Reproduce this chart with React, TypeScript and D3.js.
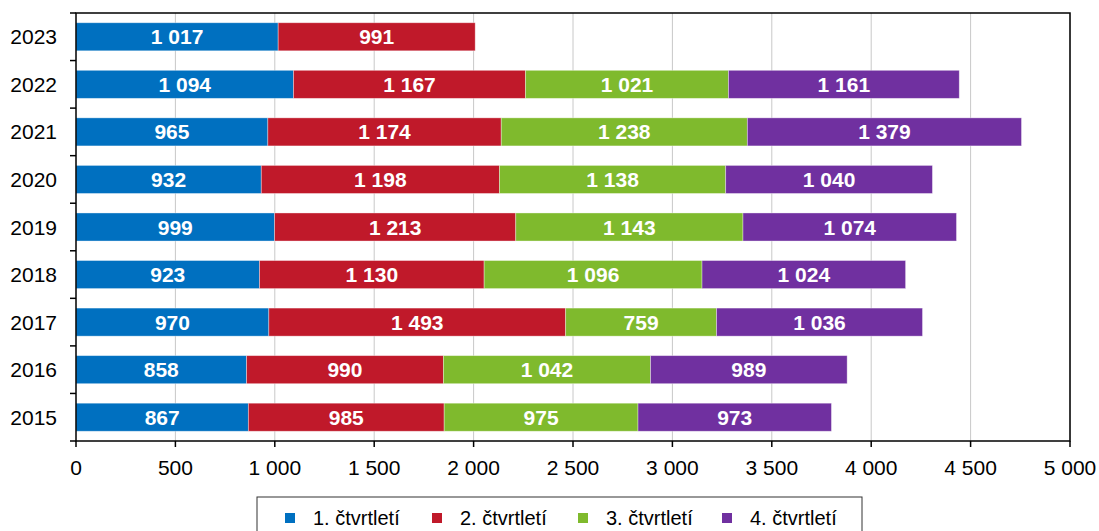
import * as d3 from 'd3'

const years = ['2023', '2022', '2021', '2020', '2019', '2018', '2017', '2016', '2015']
const q1 = [1017, 1094, 965, 932, 999, 923, 970, 858, 867]
const q2 = [991, 1167, 1174, 1198, 1213, 1130, 1493, 990, 985]
const q3 = [0, 1021, 1238, 1138, 1143, 1096, 759, 1042, 975]
const q4 = [0, 1161, 1379, 1040, 1074, 1024, 1036, 989, 973]
const seriesNames = ['1. čtvrtletí', '2. čtvrtletí', '3. čtvrtletí', '4. čtvrtletí']
const seriesColors = ['#0070c0', '#c0192a', '#7fba2d', '#7030a0']
const xTicks = [0, 500, 1000, 1500, 2000, 2500, 3000, 3500, 4000, 4500, 5000]

const W = 1099
const H = 531
const margin = { top: 13, right: 29, bottom: 90, left: 76 }
const plotW = W - margin.left - margin.right
const plotH = H - margin.top - margin.bottom

const fmt = (v: number) => d3.format(',')(v).replace(/,/g, ' ')
const font = '"Liberation Sans", Arial, sans-serif'

export default function App() {
  const rows = years.map((y, i) => ({ year: y, q1: q1[i], q2: q2[i], q3: q3[i], q4: q4[i] }))
  const stack = d3.stack<any>().keys(['q1', 'q2', 'q3', 'q4'])(rows)

  const x = d3.scaleLinear().domain([0, 5000]).range([0, plotW])
  const y = d3.scaleBand().domain(years).range([0, plotH]).paddingInner(0.41).paddingOuter(0.205)

  const legendX = 257
  const legendY = 497
  const legendItemX = [28, 175, 321, 465]

  return (
    <svg width={W} height={H} style={{ position: 'absolute', left: 0, top: 0, fontFamily: font }}>
      <rect width={W} height={H} fill="#fff" />
      <g transform={`translate(${margin.left},${margin.top})`}>
        {xTicks.slice(1).map((t) => (
          <line key={t} x1={x(t)} x2={x(t)} y1={0} y2={plotH} stroke="#c8c8c8" strokeWidth={1} />
        ))}
        {stack.map((s, si) =>
          s.map((d, i) => {
            const v = d[1] - d[0]
            if (v <= 0) return null
            const x0 = x(d[0])
            const w = x(d[1]) - x0
            const yy = y(years[i])!
            return (
              <g key={`${si}-${i}`}>
                <rect x={x0} y={yy} width={w} height={y.bandwidth()} fill={seriesColors[si]} stroke="#ffffff" strokeOpacity={0.45} strokeWidth={0.8} />
                <text x={x0 + w / 2} y={yy + y.bandwidth() / 2} dy="0.36em" textAnchor="middle" fill="#fff" fontWeight="bold" fontSize={21}>
                  {fmt(v)}
                </text>
              </g>
            )
          })
        )}
        <rect x={0} y={0} width={plotW} height={plotH} fill="none" stroke="#000" strokeWidth={1.5} />
        {years.map((yr, i) => (
          <g key={yr}>
            <line x1={-6} x2={0} y1={(plotH / years.length) * i} y2={(plotH / years.length) * i} stroke="#000" strokeWidth={1.5} />
            <text x={-19} y={y(yr)! + y.bandwidth() / 2} dy="0.36em" textAnchor="end" fontSize={21} fill="#000">
              {yr}
            </text>
          </g>
        ))}
        <line x1={-6} x2={0} y1={plotH} y2={plotH} stroke="#000" strokeWidth={1.5} />
        {xTicks.map((t) => (
          <g key={t} transform={`translate(${x(t)},${plotH})`}>
            <line y1={0} y2={6} stroke="#000" strokeWidth={1.5} />
            <text y={34} textAnchor="middle" fontSize={21} fill="#000">
              {fmt(t)}
            </text>
          </g>
        ))}
      </g>
      <g transform={`translate(${legendX},${legendY})`}>
        <rect x={0} y={0} width={605} height={40} fill="#fff" stroke="#333" strokeWidth={1} />
        {seriesNames.map((n, i) => (
          <g key={n} transform={`translate(${legendItemX[i]},0)`}>
            <rect x={0} y={16} width={10} height={10} fill={seriesColors[i]} />
            <text x={28} y={21} dy="0.36em" fontSize={20} fill="#000">
              {n}
            </text>
          </g>
        ))}
      </g>
    </svg>
  )
}
